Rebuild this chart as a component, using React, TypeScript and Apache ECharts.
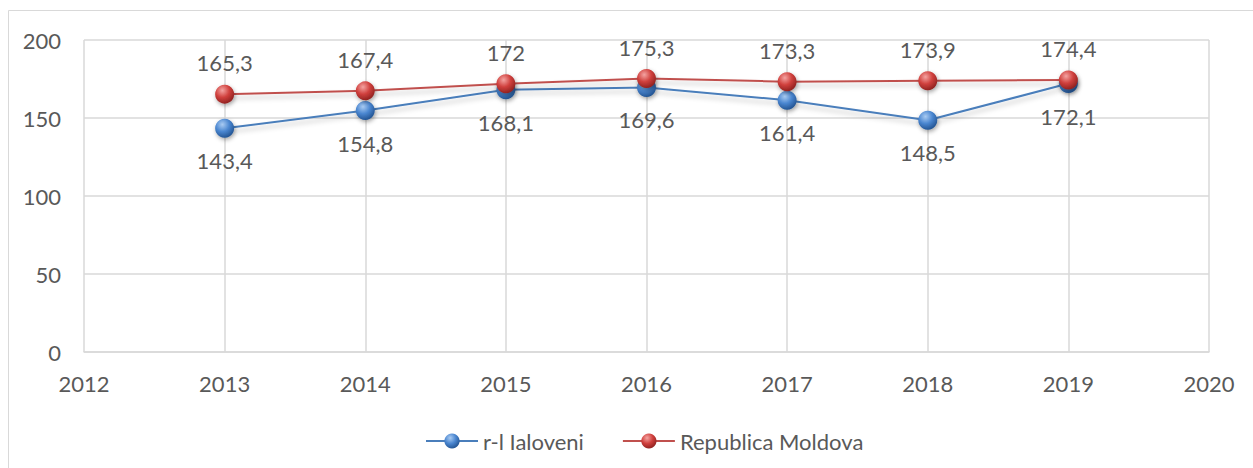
import React, { useEffect, useRef } from "react";
import * as echarts from "echarts";

const years = [2013, 2014, 2015, 2016, 2017, 2018, 2019];
const ialoveni = [143.4, 154.8, 168.1, 169.6, 161.4, 148.5, 172.1];
const moldova = [165.3, 167.4, 172, 175.3, 173.3, 173.9, 174.4];
const seriesNames = ["r-l Ialoveni", "Republica Moldova"];

const FONT = "Lato, 'Open Sans', sans-serif";
const FS = 22;
const TEXT = "#595959";
const GRID = "#d9d9d9";

const fmt = (v: number) => String(v).replace(".", ",");

const ball = (light: string, mid: string, dark: string) =>
  new echarts.graphic.RadialGradient(0.38, 0.3, 0.75, [
    { offset: 0, color: light },
    { offset: 0.5, color: mid },
    { offset: 1, color: dark },
  ]);

export default function App() {
  const ref = useRef<HTMLDivElement>(null);
  useEffect(() => {
    if (!ref.current) return;
    const chart = echarts.init(ref.current, null, { renderer: "svg" });
    const mk = (
      name: string,
      vals: number[],
      lineColor: string,
      grad: any,
      pos: "top" | "bottom",
      z: number
    ) => ({
      name,
      type: "line",
      z,
      data: years.map((y, i) => [y, vals[i]]),
      symbol: "circle",
      symbolSize: 19,
      itemStyle: {
        color: grad,
        borderWidth: 0,
        shadowColor: "rgba(0,0,0,0.35)",
        shadowBlur: 4,
        shadowOffsetX: 1,
        shadowOffsetY: 2,
      },
      lineStyle: {
        color: lineColor,
        width: 2,
        shadowColor: "rgba(0,0,0,0.22)",
        shadowBlur: 5,
        shadowOffsetY: 4,
      },
      label: {
        show: true,
        position: pos,
        distance: pos === "top" ? 11 : 12,
        color: TEXT,
        fontSize: FS,
        fontFamily: FONT,
        formatter: (p: any) => fmt(p.value[1]),
      },
      emphasis: { disabled: true },
    });
    chart.setOption({
      animation: false,
      backgroundColor: "#fff",
      textStyle: { fontFamily: FONT },
      graphic: [
        {
          type: "rect",
          shape: { x: 8.5, y: 10.5, width: 1400, height: 600 },
          style: { fill: "none", stroke: GRID, lineWidth: 1 },
          silent: true,
        },
      ],
      grid: { left: 84, right: 44, top: 40, bottom: 116, containLabel: false },
      legend: {
        data: seriesNames,
        top: 425,
        left: 420,
        itemWidth: 52,
        itemHeight: 19,
        itemGap: 38,
        textStyle: { color: TEXT, fontSize: FS, fontFamily: FONT },
      },
      xAxis: {
        type: "value",
        min: 2012,
        max: 2020,
        interval: 1,
        axisLine: { show: true, lineStyle: { color: GRID, width: 1.5 } },
        axisTick: { show: false },
        splitLine: { show: true, lineStyle: { color: GRID, width: 1.5 } },
        axisLabel: {
          color: TEXT,
          fontSize: FS,
          fontFamily: FONT,
          margin: 20,
          formatter: (v: number) => String(v),
        },
      },
      yAxis: {
        type: "value",
        min: 0,
        max: 200,
        interval: 50,
        axisLine: { show: false },
        axisTick: { show: false },
        splitLine: { show: true, lineStyle: { color: GRID, width: 1.5 } },
        axisLabel: { color: TEXT, fontSize: FS, fontFamily: FONT, margin: 23 },
      },
      series: [
        mk(seriesNames[0], ialoveni, "#4a7ebb", ball("#a9cbf2", "#4a86d0", "#1f4f8c"), "bottom", 2),
        mk(seriesNames[1], moldova, "#c0504d", ball("#f4a3a1", "#d0403d", "#8a1f1d"), "top", 3),
      ],
    });
    return () => chart.dispose();
  }, []);
  return (
    <div
      ref={ref}
      style={{ position: "fixed", left: 0, top: 0, width: 1253, height: 468 }}
    />
  );
}
